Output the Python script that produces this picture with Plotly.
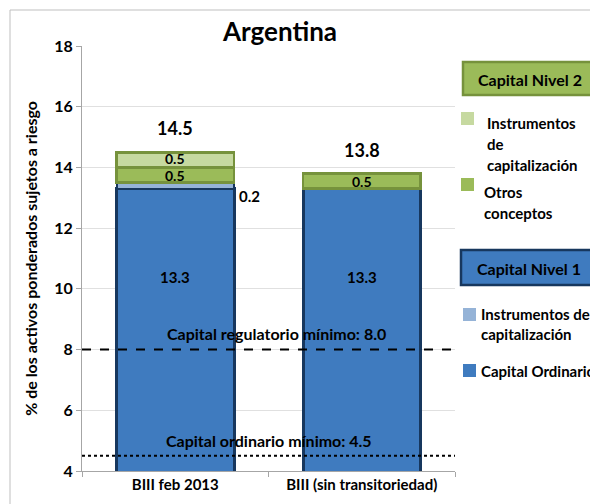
import plotly.graph_objects as go

categories = ["BIII feb 2013", "BIII (sin transitoriedad)"]
capital_ordinario = [13.3, 13.3]
instr_n1 = [0.2, None]
otros_conceptos = [0.5, 0.5]
instr_n2 = [0.5, None]
totals = [14.5, 13.8]
min_regulatorio = 8.0
min_ordinario = 4.5
y_ticks = [4, 6, 8, 10, 12, 14, 16, 18]

FONT = "Lato"
C_ORD = "#3F7BBF"
C_IN1 = "#95B3D7"
C_OTR = "#9BBB59"
C_IN2 = "#C6D9A0"
NAVY = "#17375E"
DKGREEN = "#76923C"

OFF = 8  # page body margin
W, H = 598, 504
PL, PR, PT, PB = 82, 455, 46, 471  # plot area in screen pixels
L, T = PL - OFF, PT - OFF
R = W - (PR - OFF)
B = H - (PB - OFF)
PW, PH = PR - PL, PB - PT


def px(x):
    return (x - PL) / PW


def py(y):
    return (PB - y) / PH


fig = go.Figure()
fig.add_bar(x=categories, y=capital_ordinario, name="Capital Ordinario",
            marker=dict(color=C_ORD, line=dict(color=NAVY, width=3)), width=0.63)
fig.add_bar(x=categories, y=instr_n1, name="Instrumentos de capitalización N1",
            marker=dict(color=C_IN1, line=dict(color=NAVY, width=2)), width=0.63)
fig.add_bar(x=categories, y=otros_conceptos, name="Otros conceptos",
            marker=dict(color=C_OTR, line=dict(color=DKGREEN, width=2.5)), width=0.63)
fig.add_bar(x=categories, y=instr_n2, name="Instrumentos de capitalización N2",
            marker=dict(color=C_IN2, line=dict(color=DKGREEN, width=2.5)), width=0.63)

fnt = dict(family=FONT, size=15, color="#000000")
fs = dict(family=FONT, size=14, color="#000000")


def b(t):
    return f"<b>{t}</b>"


ann = []
for i, c in enumerate(categories):
    ann.append(dict(x=c, y=10.4, text=b(f"{capital_ordinario[i]:.1f}"), showarrow=False, font=fnt))
    base = capital_ordinario[i] + (instr_n1[i] or 0)
    ann.append(dict(x=c, y=base + otros_conceptos[i] / 2 - 0.02, text=b(f"{otros_conceptos[i]:.1f}"),
                    showarrow=False, font=fs))
    if instr_n2[i]:
        ann.append(dict(x=c, y=base + otros_conceptos[i] + instr_n2[i] / 2 + 0.03,
                        text=b(f"{instr_n2[i]:.1f}"), showarrow=False, font=fs))
    if instr_n1[i]:
        ann.append(dict(x=c, y=capital_ordinario[i] + instr_n1[i] / 2 - 0.35, text=b(f"{instr_n1[i]:.1f}"),
                        showarrow=False, font=fnt, xshift=74))
    ann.append(dict(x=c, y=totals[i], text=b(f"{totals[i]:.1f}"), showarrow=False, yshift=24,
                    font=dict(family=FONT, size=18, color="#000")))

ann.append(dict(x=0.5, y=min_regulatorio, text=b(f"Capital regulatorio mínimo: {min_regulatorio:.1f}"),
                showarrow=False, yshift=16, xshift=8, font=dict(family=FONT, size=16, color="#000")))
ann.append(dict(x=0.5, y=min_ordinario, text=b(f"Capital ordinario mínimo: {min_ordinario:.1f}"),
                showarrow=False, yshift=15, font=dict(family=FONT, size=16, color="#000")))

shapes = [
    dict(type="line", xref="paper", x0=0, x1=1, yref="y", y0=min_regulatorio, y1=min_regulatorio,
         line=dict(color="#000", width=2, dash="dash")),
    dict(type="line", xref="paper", x0=0, x1=1, yref="y", y0=min_ordinario, y1=min_ordinario,
         line=dict(color="#000", width=2, dash="dot")),
    dict(type="rect", xref="paper", yref="paper", x0=px(10), x1=px(700), y0=py(600), y1=py(10),
         line=dict(color="#BFBFBF", width=1), layer="below"),
]

lf = dict(family=FONT, size=15, color="#000")


def header(x0, x1, y0, y1, fill, border, text, tx, ty):
    shapes.append(dict(type="rect", xref="paper", yref="paper", x0=px(x0), x1=px(x1),
                       y0=py(y1), y1=py(y0), fillcolor=fill, line=dict(color=border, width=2.5)))
    ann.append(dict(xref="paper", yref="paper", x=px(tx), y=py(ty), text=b(text), showarrow=False,
                    font=dict(family=FONT, size=16, color="#000"), xanchor="center", yanchor="middle"))


def item(sx, sy, color, lines, tx, ty0, dy):
    shapes.append(dict(type="rect", xref="paper", yref="paper", x0=px(sx), x1=px(sx + 13),
                       y0=py(sy + 13), y1=py(sy), fillcolor=color, line=dict(width=0)))
    for k, t in enumerate(lines):
        ann.append(dict(xref="paper", yref="paper", x=px(tx), y=py(ty0 + k * dy), text=b(t),
                        showarrow=False, font=lf, xanchor="left", yanchor="middle"))


header(463, 610, 62, 95, C_OTR, DKGREEN, "Capital Nivel 2", 530, 79)
item(461, 112, C_IN2, ["Instrumentos", "de", "capitalización"], 485, 123, 21)
item(461, 178, C_OTR, ["Otros", "conceptos"], 482, 192, 21)
header(461, 610, 250, 285, C_ORD, NAVY, "Capital Nivel 1", 529, 268)
item(463, 308, C_IN1, ["Instrumentos de", "capitalización"], 479, 314, 20)
item(463, 364, C_ORD, ["Capital Ordinario"], 479, 371, 20)

fig.update_layout(
    width=W, height=H, margin=dict(l=L, r=R, t=T, b=B, autoexpand=False),
    barmode="stack", bargap=0.37, showlegend=False,
    plot_bgcolor="white", paper_bgcolor="white",
    font=dict(family=FONT, size=14, color="#000"),
    title=dict(text="<b>Argentina</b>", x=(280 - OFF) / W, xanchor="center", y=1 - (32 - OFF) / H,
               yanchor="middle", font=dict(family=FONT, size=26, color="#000")),
    xaxis=dict(showline=True, linecolor="#A6A6A6", linewidth=1, ticks="outside", tickson="boundaries",
               ticklen=5, tickcolor="#A6A6A6", tickfont=dict(family=FONT, size=15, color="#000"),
               tickvals=categories, ticktext=[b(c) for c in categories], automargin=False),
    yaxis=dict(range=[4, 18], tickvals=y_ticks, ticktext=[b(v) for v in y_ticks],
               showgrid=True, gridcolor="#E0E0E0",
               showline=True, linecolor="#A6A6A6", linewidth=1, ticks="outside", ticklen=5,
               tickcolor="#A6A6A6", tickfont=dict(family=FONT, size=16, color="#000"),
               zeroline=False, automargin=False,
               title=dict(text="<b>% de los activos ponderados sujetos a riesgo</b>",
                          font=dict(family=FONT, size=16, color="#000"), standoff=12)),
    annotations=ann, shapes=shapes,
)
fig.write_html("out.html")
